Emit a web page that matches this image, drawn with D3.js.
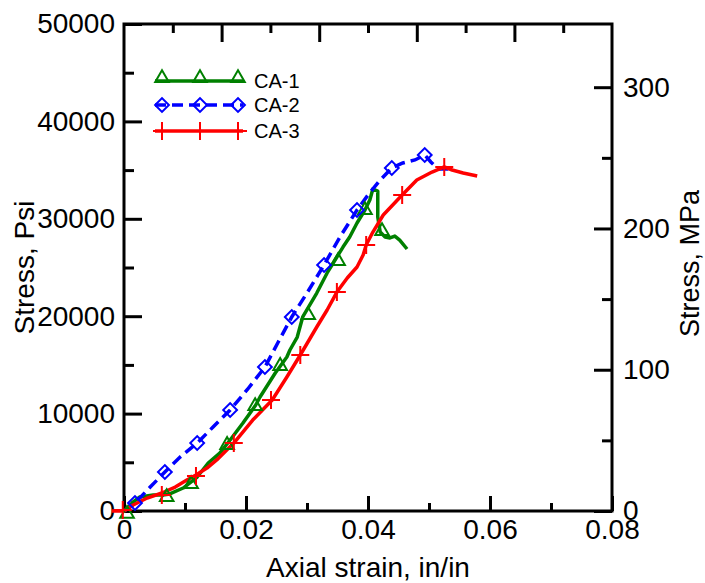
<!DOCTYPE html>
<html>
<head>
<meta charset="utf-8">
<script src="https://cdn.jsdelivr.net/npm/d3@7"></script>
<style>
  body { margin: 0; background: #fff; }
  svg { display: block; font-family: "Liberation Sans", Arial, sans-serif; }
</style>
</head>
<body>
<div id="chart"></div>
<script>
const width = 705;
const height = 583;
const marginTop = 24;
const marginRight = 93;
const marginBottom = 72;
const marginLeft = 124;

// strain (in/in) and stress (psi)
const ca1Strain = [0, 0.0005, 0.0013, 0.0026, 0.0048, 0.0064, 0.0075, 0.0097, 0.0120, 0.0138, 0.0157, 0.0174, 0.0195, 0.0216, 0.0223, 0.0248, 0.0267, 0.0272, 0.0284, 0.0293, 0.0316, 0.0333, 0.0346, 0.0359, 0.0370, 0.0382, 0.0395, 0.0403, 0.0408, 0.0416, 0.0416, 0.0420, 0.0428, 0.0436, 0.0444, 0.0452, 0.0464];
const ca1Stress = [0, 205, 820, 1440, 1640, 1640, 1750, 2360, 3490, 4930, 5950, 7290, 9030, 10880, 11700, 14170, 15810, 16530, 17860, 19920, 22380, 24440, 25770, 27100, 28130, 29570, 30900, 31930, 33060, 32850, 30180, 28640, 28130, 28030, 28230, 27820, 26900];
const ca1MarkStrain = [0.0005, 0.0070, 0.0110, 0.0169, 0.0215, 0.0256, 0.0302, 0.0351, 0.0395, 0.0423];
const ca1MarkStress = [-300, 1440, 2770, 6780, 10780, 14890, 20120, 25670, 30900, 28750];

const ca2Strain = [0, 0.0010, 0.0018, 0.0043, 0.0067, 0.0092, 0.0120, 0.0146, 0.0174, 0.0203, 0.0231, 0.0252, 0.0275, 0.0302, 0.0328, 0.0354, 0.0382, 0.0400, 0.0420, 0.0439, 0.0457, 0.0477, 0.0493, 0.0503, 0.0515, 0.0534];
const ca2Stress = [0, 410, 820, 2460, 4000, 5540, 6980, 8620, 10370, 12530, 14780, 17250, 19920, 22590, 25260, 28130, 30900, 32440, 33980, 35220, 35730, 36040, 36550, 35830, 35110, 35110];
const ca2MarkStrain = [0.0018, 0.0067, 0.0120, 0.0174, 0.0231, 0.0275, 0.0328, 0.0382, 0.0439, 0.0493];
const ca2MarkStress = [820, 4000, 6980, 10370, 14780, 19920, 25260, 30900, 35220, 36550];

const ca3Strain = [-0.0020, 0, 0.0015, 0.0038, 0.0062, 0.0084, 0.0103, 0.0118, 0.0136, 0.0152, 0.0180, 0.0211, 0.0243, 0.0267, 0.0289, 0.0316, 0.0333, 0.0349, 0.0366, 0.0382, 0.0392, 0.0397, 0.0408, 0.0425, 0.0456, 0.0480, 0.0505, 0.0525, 0.0538, 0.0556, 0.0579];
const ca3Stress = [0, 0, 620, 1330, 1850, 2460, 3180, 3700, 4410, 5240, 6980, 9340, 11400, 13760, 16020, 18890, 20640, 22480, 23920, 25050, 26280, 27310, 28640, 30390, 32440, 33980, 34800, 35320, 35010, 34700, 34390];
const ca3MarkStrain = [-0.0002, 0.0062, 0.0118, 0.0180, 0.0241, 0.0289, 0.0349, 0.0397, 0.0456, 0.0525];
const ca3MarkStress = [100, 1640, 3590, 6980, 11400, 16020, 22480, 27310, 32440, 35320];

const seriesNames = ['CA-1', 'CA-2', 'CA-3'];

// ticks
const xTicks = [0, 0.02, 0.04, 0.06, 0.08];
const xMinorTicks = [0.01, 0.03, 0.05, 0.07];
const topTicks = [0.016, 0.032, 0.048, 0.064];
const topMinorTicks = [0.008, 0.024, 0.04, 0.056, 0.072];
const psiTicks = [0, 10000, 20000, 30000, 40000, 50000];
const psiMinorTicks = [5000, 15000, 25000, 35000, 45000];
const mpaTicks = [0, 100, 200, 300];
const mpaMinorTicks = [50, 150, 250];

const psiPerMPa = 145.038;

const x = d3.scaleLinear().domain([0, 0.08]).range([marginLeft, width - marginRight]);
const y = d3.scaleLinear().domain([0, 50000]).range([height - marginBottom, marginTop]);
const yMPa = d3.scaleLinear().domain([0, 50000 / psiPerMPa]).range([height - marginBottom, marginTop]);

const svg = d3.select('#chart')
  .append('svg')
  .attr('width', width)
  .attr('height', height);

const fontSize = 28;

function styleAxis(g) {
  g.select('.domain').remove();
  g.selectAll('.tick line').attr('stroke', '#000').attr('stroke-width', 3);
  g.selectAll('.tick text').attr('fill', '#000').style('font-size', fontSize + 'px').style('font-family', '"Liberation Sans", Arial, sans-serif');
}

const bottomY = height - marginBottom;
const rightX = width - marginRight;

// bottom axis
svg.append('g')
  .attr('transform', `translate(0,${bottomY})`)
  .call(d3.axisBottom(x).tickValues(xMinorTicks).tickSize(-8).tickFormat(''))
  .call(styleAxis);
svg.append('g')
  .attr('transform', `translate(0,${bottomY})`)
  .call(d3.axisBottom(x).tickValues(xTicks).tickSize(-15).tickPadding(8)
    .tickFormat(d => d === 0 ? '0' : d.toFixed(2)))
  .call(styleAxis);

// top axis, ticks only
svg.append('g')
  .attr('transform', `translate(0,${marginTop})`)
  .call(d3.axisTop(x).tickValues(topMinorTicks).tickSize(-9).tickFormat(''))
  .call(styleAxis);
svg.append('g')
  .attr('transform', `translate(0,${marginTop})`)
  .call(d3.axisTop(x).tickValues(topTicks).tickSize(-18).tickFormat(''))
  .call(styleAxis);

// left axis psi
svg.append('g')
  .attr('transform', `translate(${marginLeft},0)`)
  .call(d3.axisLeft(y).tickValues(psiMinorTicks).tickSize(-10).tickFormat(''))
  .call(styleAxis);
svg.append('g')
  .attr('transform', `translate(${marginLeft},0)`)
  .call(d3.axisLeft(y).tickValues(psiTicks).tickSize(-18).tickPadding(9).tickFormat(d3.format('d')))
  .call(styleAxis);

// right axis MPa
svg.append('g')
  .attr('transform', `translate(${rightX},0)`)
  .call(d3.axisRight(yMPa).tickValues(mpaMinorTicks).tickSize(-10).tickFormat(''))
  .call(styleAxis);
svg.append('g')
  .attr('transform', `translate(${rightX},0)`)
  .call(d3.axisRight(yMPa).tickValues(mpaTicks).tickSize(-18).tickPadding(11).tickFormat(d3.format('d')))
  .call(styleAxis);

// frame
svg.append('rect')
  .attr('x', marginLeft)
  .attr('y', marginTop)
  .attr('width', rightX - marginLeft)
  .attr('height', bottomY - marginTop)
  .attr('fill', 'none')
  .attr('stroke', '#000')
  .attr('stroke-width', 3);

// axis titles
svg.append('text')
  .attr('x', (marginLeft + rightX) / 2)
  .attr('y', 577)
  .attr('text-anchor', 'middle')
  .style('font-size', fontSize + 'px')
  .text('Axial strain, in/in');

svg.append('text')
  .attr('transform', `translate(34,${(marginTop + bottomY) / 2}) rotate(-90)`)
  .attr('text-anchor', 'middle')
  .style('font-size', fontSize + 'px')
  .text('Stress, Psi');

svg.append('text')
  .attr('transform', `translate(699,${(marginTop + bottomY) / 2 - 4}) rotate(-90)`)
  .attr('text-anchor', 'middle')
  .style('font-size', '27px')
  .text('Stress, MPa');

const zip = (a, b) => a.map((v, i) => [v, b[i]]);

const line = d3.line()
  .x(d => x(d[0]))
  .y(d => y(d[1]));

const green = '#008000';
const blue = '#0000ff';
const red = '#ff0000';

// curves
svg.append('path')
  .datum(zip(ca1Strain, ca1Stress))
  .attr('d', line)
  .attr('fill', 'none')
  .attr('stroke', green)
  .attr('stroke-width', 3.5)
  .attr('stroke-linejoin', 'round');

svg.append('path')
  .datum(zip(ca2Strain, ca2Stress))
  .attr('d', line)
  .attr('fill', 'none')
  .attr('stroke', blue)
  .attr('stroke-width', 3.5)
  .attr('stroke-dasharray', '11,6');

svg.append('path')
  .datum(zip(ca3Strain, ca3Stress))
  .attr('d', line)
  .attr('fill', 'none')
  .attr('stroke', red)
  .attr('stroke-width', 3.5)
  .attr('stroke-linejoin', 'round');

// markers
const triangle = d3.symbol().type(d3.symbolTriangle).size(80);
const diamond = d3.symbol().type(d3.symbolSquare).size(95);
const plus = 'M-9,0H9M0,-9V9';

svg.append('g').selectAll('path')
  .data(zip(ca1MarkStrain, ca1MarkStress))
  .join('path')
  .attr('d', triangle)
  .attr('transform', d => `translate(${x(d[0])},${y(d[1])})`)
  .attr('fill', 'none')
  .attr('stroke', green)
  .attr('stroke-width', 2);

svg.append('g').selectAll('path')
  .data(zip(ca2MarkStrain, ca2MarkStress))
  .join('path')
  .attr('d', diamond)
  .attr('transform', d => `translate(${x(d[0])},${y(d[1])}) rotate(45)`)
  .attr('fill', 'none')
  .attr('stroke', blue)
  .attr('stroke-width', 2);

svg.append('g').selectAll('path')
  .data(zip(ca3MarkStrain, ca3MarkStress))
  .join('path')
  .attr('d', plus)
  .attr('transform', d => `translate(${x(d[0])},${y(d[1])})`)
  .attr('fill', 'none')
  .attr('stroke', red)
  .attr('stroke-width', 2);

// legend
const legend = svg.append('g');
const legendRows = [
  {name: seriesNames[0], color: green, dash: null, y: 81},
  {name: seriesNames[1], color: blue, dash: '11,6', y: 105},
  {name: seriesNames[2], color: red, dash: null, y: 131}
];
const legendMarksX = [162, 200, 238];

legendRows.forEach((r, i) => {
  legend.append('line')
    .attr('x1', 155).attr('x2', 243)
    .attr('y1', r.y).attr('y2', r.y)
    .attr('stroke', r.color)
    .attr('stroke-width', 3.5)
    .attr('stroke-dasharray', r.dash);
  legendMarksX.forEach(mx => {
    const m = legend.append('path')
      .attr('fill', 'none')
      .attr('stroke', r.color)
      .attr('stroke-width', 2);
    if (i === 0) m.attr('d', triangle).attr('transform', `translate(${mx},${r.y - 3})`);
    if (i === 1) m.attr('d', diamond).attr('transform', `translate(${mx},${r.y}) rotate(45)`);
    if (i === 2) m.attr('d', plus).attr('transform', `translate(${mx},${r.y})`);
  });
  legend.append('text')
    .attr('x', 254)
    .attr('y', r.y)
    .attr('dy', '0.35em')
    .style('font-size', '20px')
    .text(r.name);
});
</script>
</body>
</html>
